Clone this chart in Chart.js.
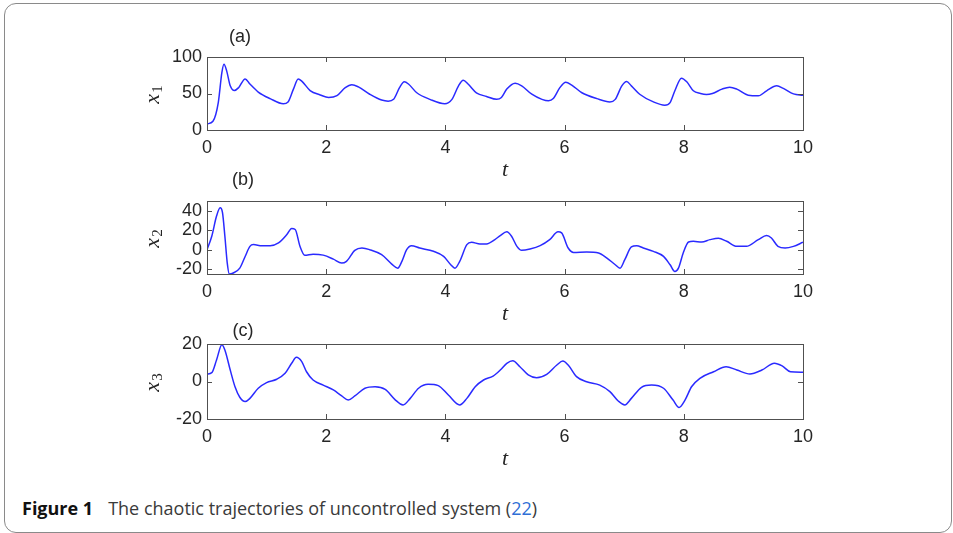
<!DOCTYPE html>
<html>
<head>
<meta charset="utf-8">
<script src="https://cdn.jsdelivr.net/npm/chart.js@4.4.1/dist/chart.umd.min.js"></script>
<style>
  body { margin: 0; background: #fff; }
  #page { position: relative; width: 953px; height: 533px; overflow: hidden; }
  #page canvas { position: absolute; left: 0; }
  #frame { position: absolute; left: 4px; top: 3px; width: 946px; height: 528px; border: 1px solid #8a8a8a; border-radius: 12px; }
  #caption { position: absolute; left: 22px; top: 497px; font: 18px "Open Sans", sans-serif; line-height: 22px; color: #3a3a3a; white-space: nowrap; }
  #caption b { color: #111; margin-right: 15px; }
  #caption a { color: #2f6fd6; text-decoration: none; }
</style>
</head>
<body>
<div id="page">
  <div id="frame"></div>
  <div id="caption"><b>Figure 1</b>The chaotic trajectories of uncontrolled system (<a>22</a>)</div>
</div>
<script>
// time axis ticks (shared)
const tTicks = [0, 2, 4, 6, 8, 10];

// (a) x1
const tA = [0, 0.1, 0.19, 0.25, 0.285, 0.33, 0.39, 0.46, 0.53, 0.64, 0.72, 0.86, 1.06, 1.28, 1.36, 1.45, 1.53, 1.59, 1.73, 1.90,
  2.04, 2.18, 2.32, 2.43, 2.54, 2.73, 2.93, 3.04, 3.13, 3.23, 3.31, 3.38, 3.52, 3.74, 3.99, 4.11, 4.22, 4.30, 4.38, 4.52,
  4.69, 4.86, 4.94, 5.03, 5.17, 5.28, 5.45, 5.62, 5.73, 5.81, 5.92, 6.02, 6.12, 6.29, 6.54, 6.76, 6.85, 6.96, 7.04, 7.12,
  7.26, 7.49, 7.68, 7.77, 7.85, 7.96, 8.05, 8.16, 8.28, 8.38, 8.48, 8.64, 8.77, 8.89, 9.08, 9.25, 9.39, 9.56, 9.67, 9.84, 10.0];
const x1Vals = [8.3, 12, 38, 79, 90, 81, 60.5, 54, 58, 70, 63, 52, 43, 36, 38.5, 56, 70, 67, 54, 48,
  44.5, 47, 58, 62, 59, 49, 41, 39.5, 42, 58, 66, 63, 51, 42, 36, 42, 60.5, 68, 63, 51,
  46, 42, 44.5, 56, 64, 60.5, 49, 42, 40, 43, 58, 65.5, 61.5, 51, 43, 38.5, 42, 60.5, 66.5, 60.5,
  49, 38.5, 34, 37.6, 53.7, 71, 66, 53.7, 50, 48.6, 50, 56, 58.7, 56, 47.7, 46.8, 53.7, 60.5, 57, 49.5, 47.7];
const x1Ticks = [0, 50, 100];

// (b) x2
const tB = [0, 0.08, 0.16, 0.22, 0.26, 0.30, 0.34, 0.375, 0.44, 0.55, 0.64, 0.72, 0.78, 0.92, 1.06, 1.20, 1.34, 1.42, 1.48, 1.56,
  1.64, 1.78, 1.95, 2.12, 2.26, 2.34, 2.48, 2.60, 2.73, 2.93, 3.10, 3.20, 3.27, 3.35, 3.43, 3.57, 3.80, 3.97, 4.09, 4.16,
  4.24, 4.36, 4.44, 4.58, 4.69, 4.83, 4.92, 5.03, 5.11, 5.20, 5.28, 5.42, 5.59, 5.75, 5.89, 5.95, 6.06, 6.15, 6.37, 6.57,
  6.71, 6.85, 6.93, 7.01, 7.12, 7.21, 7.32, 7.49, 7.66, 7.77, 7.85, 7.91, 7.99, 8.08, 8.16, 8.30, 8.44, 8.58, 8.72, 8.89,
  9.05, 9.25, 9.39, 9.47, 9.58, 9.70, 9.84, 10.0];
const x2Vals = [0, 13.8, 34.5, 43, 38, 13.8, -13.8, -25, -24, -19, -7, 3.4, 5.2, 4.1, 4.1, 6.9, 15.5, 21.7, 20.7, 3.4,
  -5.8, -4.6, -5.6, -9.7, -13.8, -12, -0.7, 1.7, 0, -5.2, -14.8, -19, -12, 0, 4.1, 1.7, -1.7, -6.9, -15.5, -19,
  -12, 5.2, 7.6, 5.9, 5.9, 10.3, 14.5, 18.3, 13.8, 3.4, -0.7, 0.7, 4.1, 10.3, 18.3, 17.2, 1.7, -2.8, -2.4, -3.4,
  -8.6, -15.5, -19, -10.3, 2.8, 4.1, 1.7, -1.7, -6.9, -15.5, -22.4, -19, -3.4, 7.9, 8.6, 7.9, 10.3, 11.7, 8.6, 3.4,
  3.4, 10.3, 14.5, 12, 3.4, 1.7, 3.4, 7.6];
const x2Ticks = [-20, 0, 20, 40];

// (c) x3
const tC = [0, 0.08, 0.16, 0.25, 0.30, 0.39, 0.47, 0.55, 0.64, 0.72, 0.86, 1.0, 1.17, 1.31, 1.42, 1.50, 1.59, 1.67, 1.78, 1.95,
  2.12, 2.26, 2.37, 2.48, 2.65, 2.82, 2.99, 3.15, 3.29, 3.41, 3.55, 3.71, 3.88, 4.05, 4.24, 4.36, 4.50, 4.64, 4.80, 4.92,
  5.03, 5.13, 5.25, 5.39, 5.53, 5.70, 5.87, 5.97, 6.06, 6.20, 6.37, 6.59, 6.76, 6.90, 7.01, 7.12, 7.29, 7.46, 7.66, 7.82,
  7.92, 8.02, 8.13, 8.27, 8.50, 8.71, 8.89, 9.11, 9.31, 9.52, 9.65, 9.79, 10.0];
const x3Vals = [4, 4.7, 11.5, 19.6, 16.8, 6.1, -2.8, -8.4, -10.7, -9, -3.6, -0.6, 1.2, 4.4, 9.7, 12.9, 10.6, 5.2, 0.8, -1.9,
  -4.5, -7.7, -9.9, -7.7, -3.6, -2.8, -4.2, -9.5, -12.5, -9, -3.6, -1.5, -2.2, -7.2, -12.5, -9, -2.8, 0.8, 2.9, 6.1,
  9.7, 11.1, 7.9, 3.5, 2, 3.8, 8.8, 10.9, 8.8, 2.6, -0.1, -1.9, -5.4, -10.4, -12.5, -9, -3.1, -1.9, -3.6, -9.9,
  -13.8, -9.9, -2.8, 1.7, 5.2, 7.9, 6.1, 4, 6.1, 9.7, 8.3, 5.2, 4.9];
const x3Ticks = [-20, 0, 20];

const textColor = '#262626';
const tickFont = { family: '"Liberation Sans", Arial, sans-serif', size: 18 };

// box around the axes with inward ticks on all four sides (MATLAB look)
const boxPlugin = {
  id: 'boxTicks',
  afterDatasetsDraw(chart) {
    const { ctx, chartArea: a, scales } = chart;
    const len = 5;
    ctx.save();
    ctx.strokeStyle = '#505050';
    ctx.lineWidth = 1;
    ctx.beginPath();
    scales.x.ticks.forEach(t => {
      const px = Math.round(scales.x.getPixelForValue(t.value)) + 0.5;
      ctx.moveTo(px, a.bottom); ctx.lineTo(px, a.bottom - len);
      ctx.moveTo(px, a.top); ctx.lineTo(px, a.top + len);
    });
    scales.y.ticks.forEach(t => {
      const py = Math.round(scales.y.getPixelForValue(t.value)) + 0.5;
      ctx.moveTo(a.left, py); ctx.lineTo(a.left + len, py);
      ctx.moveTo(a.right, py); ctx.lineTo(a.right - len, py);
    });
    ctx.stroke();
    ctx.strokeRect(Math.round(a.left) + 0.5, Math.round(a.top) + 0.5, Math.round(a.width), Math.round(a.height));
    ctx.restore();
  }
};

// panel letter, t label and rotated x_i label
const decoPlugin = {
  id: 'deco',
  afterDraw(chart, args, opts) {
    const { ctx, chartArea: a } = chart;
    ctx.save();
    ctx.fillStyle = textColor;
    ctx.textAlign = 'center';
    ctx.textBaseline = 'middle';
    ctx.font = '18px "Liberation Sans", Arial, sans-serif';
    ctx.fillText(opts.letter, opts.letterX, a.top - opts.letterGap);

    ctx.font = 'italic 22px "Liberation Serif", serif';
    ctx.fillText('t', (a.left + a.right) / 2, a.bottom + 40);

    // y label: italic x with upright subscript, rotated
    ctx.translate(159, (a.top + a.bottom) / 2 + 1);
    ctx.rotate(-Math.PI / 2);
    ctx.textAlign = 'left';
    ctx.textBaseline = 'alphabetic';
    ctx.font = 'italic 22px "Liberation Serif", serif';
    const wx = ctx.measureText('x').width;
    ctx.font = '15px "Liberation Serif", serif';
    const ws = ctx.measureText(opts.sub).width;
    const x0 = -(wx + ws + 1) / 2;
    ctx.font = 'italic 22px "Liberation Serif", serif';
    ctx.fillText('x', x0, 0);
    ctx.font = '15px "Liberation Serif", serif';
    ctx.fillText(opts.sub, x0 + wx + 1, 3);
    ctx.restore();
  }
};

const panels = [
  { t: tA, v: x1Vals, ticks: x1Ticks, min: 0, max: 100, top: 57, bottom: 130, letter: '(a)', letterX: 240, letterGap: 20, sub: '1' },
  { t: tB, v: x2Vals, ticks: x2Ticks, min: -25, max: 50, top: 201, bottom: 274, letter: '(b)', letterX: 243, letterGap: 21, sub: '2' },
  { t: tC, v: x3Vals, ticks: x3Ticks, min: -20, max: 20, top: 344, bottom: 419, letter: '(c)', letterX: 243, letterGap: 13, sub: '3' }
];

const page = document.getElementById('page');
panels.forEach(p => {
  const canvas = document.createElement('canvas');
  canvas.width = 953;
  canvas.height = (p.bottom - p.top) + 100;
  canvas.style.top = (p.top - 50) + 'px';
  page.appendChild(canvas);

  new Chart(canvas, {
    type: 'line',
    data: {
      datasets: [{
        data: p.t.map((t, i) => ({ x: t, y: p.v[i] })),
        borderColor: '#2a2aff',
        borderWidth: 1.5,
        pointRadius: 0,
        cubicInterpolationMode: 'monotone',
        fill: false
      }]
    },
    options: {
      responsive: false,
      animation: false,
      devicePixelRatio: 1,
      layout: { padding: { left: 0, right: 150, top: 50, bottom: 20 } },
      scales: {
        x: {
          type: 'linear', min: 0, max: 10,
          afterBuildTicks: s => { s.ticks = tTicks.map(v => ({ value: v })); },
          afterFit: s => { s.height = 30; },
          grid: { display: false, drawTicks: false },
          border: { display: false },
          ticks: { font: tickFont, color: textColor, padding: 7, maxRotation: 0, autoSkip: false }
        },
        y: {
          min: p.min, max: p.max,
          afterBuildTicks: s => { s.ticks = p.ticks.map(v => ({ value: v })); },
          afterFit: s => { s.width = 207; },
          grid: { display: false, drawTicks: false },
          border: { display: false },
          ticks: { font: tickFont, color: textColor, padding: 5, autoSkip: false }
        }
      },
      plugins: {
        legend: { display: false },
        tooltip: { enabled: false },
        deco: { letter: p.letter, letterX: p.letterX, letterGap: p.letterGap, sub: p.sub }
      }
    },
    plugins: [boxPlugin, decoPlugin]
  });
});
</script>
</body>
</html>
